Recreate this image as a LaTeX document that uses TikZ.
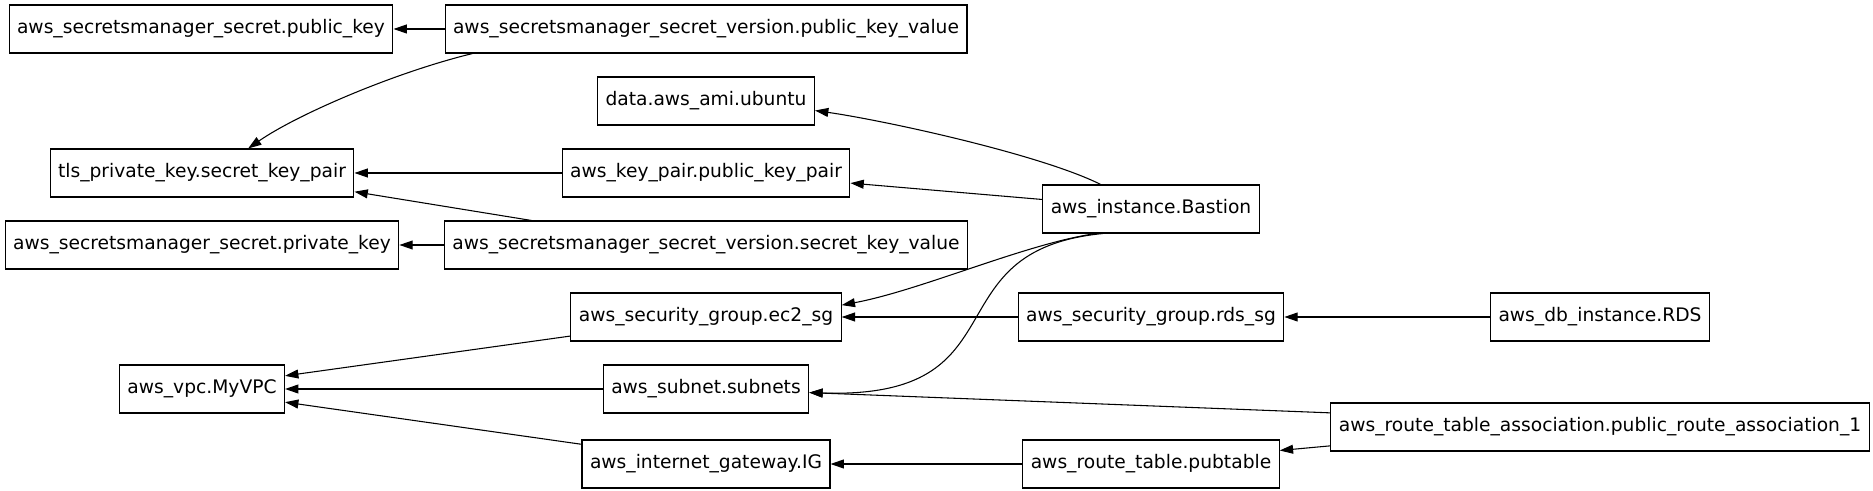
\documentclass[tikz,border=0pt]{standalone}
\usepackage{fontspec}
\setmainfont{DejaVu Sans}
\usetikzlibrary{arrows.meta}
\begin{document}
\begin{tikzpicture}[x=0.75pt, y=-0.75pt,
    res/.style={rectangle, draw, line width=0.8pt, minimum height=36pt,
      inner xsep=6pt, inner ysep=0pt, font=\fontsize{14pt}{17pt}\selectfont}]
  \useasboundingbox (0,0) rectangle (1873,491);
  \begin{scope}[every node/.style={res}]
    % left column
    \node (pk) at (201,29) {aws\_secretsmanager\_secret.public\_key};
    \node (tls) at (202,173) {tls\_private\_key.secret\_key\_pair};
    \node (prk) at (202,245) {aws\_secretsmanager\_secret.private\_key};
    \node (vpc) at (202,389) {aws\_vpc.MyVPC};
    % second column
    \node (pkv) at (706,29) {aws\_secretsmanager\_secret\_version.public\_key\_value};
    \node (ami) at (706,101) {data.aws\_ami.ubuntu};
    \node (kp) at (706,173) {aws\_key\_pair.public\_key\_pair};
    \node (skv) at (706,245) {aws\_secretsmanager\_secret\_version.secret\_key\_value};
    \node (ec2) at (706,317) {aws\_security\_group.ec2\_sg};
    \node (sub) at (706,389) {aws\_subnet.subnets};
    \node (igw) at (706,464) {aws\_internet\_gateway.IG};
    % third column
    \node (bas) at (1151,209) {aws\_instance.Bastion};
    \node (rdssg) at (1151,317) {aws\_security\_group.rds\_sg};
    \node (rt) at (1151,464) {aws\_route\_table.pubtable};
    % fourth column
    \node (rds) at (1600,317) {aws\_db\_instance.RDS};
    \node (rta) at (1600,427) {aws\_route\_table\_association.public\_route\_association\_1};
  \end{scope}
  \begin{scope}[->, >={Triangle[length=10pt, width=6.7pt]}, line width=0.8pt]
    \draw (pkv) -- (pk); \draw (pkv.186.5) .. controls +(-78,19) and
    +(49,-34) .. (tls.28);
    \draw (kp) -- (tls); \draw (skv.172.3) -- (tls.-7.8); \draw (skv) --
    (prk);
    \draw (bas.154.8) .. controls +(-60,-30) and +(70,10) .. (ami.-5.6);
    \draw (bas.175.3) -- (kp.-4.7);
    \draw (bas.204) .. controls +(-70,10) and +(80,-15) .. (ec2.5.8);
    \draw (bas.207.6) .. controls +(-175,17) and +(217,7) .. (sub.-2);
    \draw (rdssg) -- (ec2); \draw (rds) -- (rdssg);
    \draw (ec2.188.7) -- (vpc.9.1); \draw (sub) -- (vpc); \draw
    (igw.171.7) -- (vpc.-9.1);
    \draw (rta.177.6) -- (sub.-2); \draw (rta.184.1) -- (rt.6.3); \draw
    (rt) -- (igw);
  \end{scope}
\end{tikzpicture}
\end{document}
